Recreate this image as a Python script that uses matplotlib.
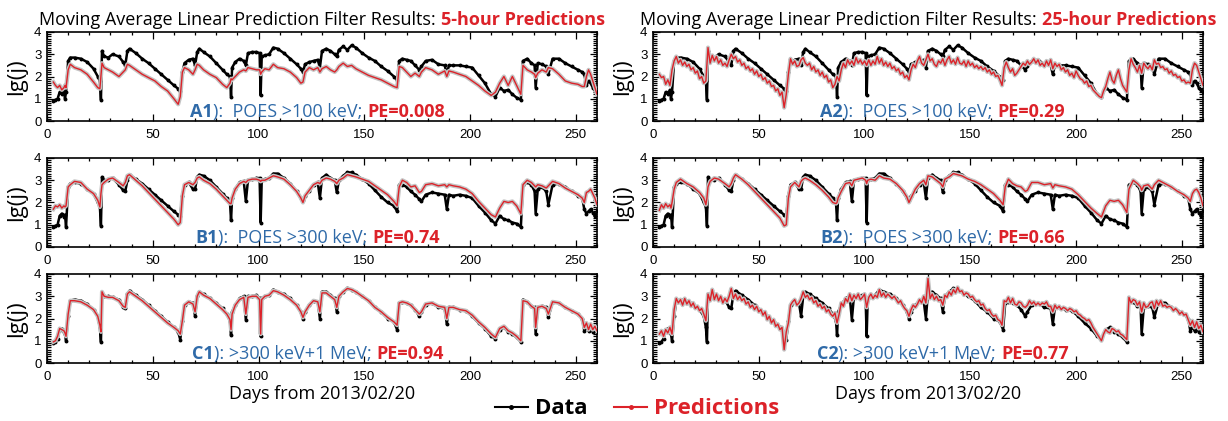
import matplotlib
matplotlib.use("Agg")
import matplotlib.pyplot as plt
import matplotlib.patheffects as pe
from matplotlib.lines import Line2D
from matplotlib.ticker import MultipleLocator
from matplotlib.transforms import IdentityTransform

plt.rcParams['font.family'] = ['Open Sans', 'DejaVu Sans']

RED = '#dc2229'
BLUE = '#2f6aa8'

# days from 2013/02/20 (shared sampling for most curves)
days = [3, 4, 5, 6, 7, 8, 8.5, 9, 10, 11,
        13, 16, 19, 22, 24, 25, 25.5, 26, 27, 29,
        31, 34, 36, 37, 38, 39, 42, 45, 48, 51,
        54, 57, 60, 62, 63, 64, 65, 67, 69, 70,
        71, 72, 74, 77, 80, 83, 85, 86.5, 87, 87.5,
        89, 91, 93, 94, 95, 97, 99, 100.5, 101, 101.5,
        103, 105, 107, 109, 112, 115, 118, 120, 121, 122,
        124, 126, 128, 129, 130, 132, 134, 136, 137, 138,
        140, 142, 144, 146, 149, 152, 155, 158, 161, 164,
        165.5, 166.5, 168, 170, 172, 174, 176, 177, 179, 182,
        185, 188, 189, 190, 192, 195, 198, 201, 204, 207,
        210, 212, 214, 216, 218, 220, 222, 224, 225, 227,
        229, 230.5, 231, 232, 234, 236, 237, 239, 242, 245,
        248, 251, 253, 254, 255, 256, 257, 258, 259, 260]

# daily sampling used for the noisy 25-hour predictions
days_daily = list(range(3, 261))

# observed lg(j): POES >100 keV
data_a = [0.9, 0.95, 1.0, 1.3, 1.2, 1.4, 1.0, 1.3, 2.7, 2.85,
          2.85, 2.8, 2.65, 2.35, 2.0, 1.8, 0.95, 3.15, 2.9, 2.85,
          3.0, 2.9, 2.65, 2.5, 3.15, 3.25, 3.05, 2.8, 2.6, 2.35,
          2.1, 1.85, 1.6, 1.45, 1.35, 2.2, 2.6, 2.75, 2.8, 2.5,
          3.1, 3.25, 3.1, 2.9, 2.6, 2.3, 2.1, 2.0, 1.1, 2.4,
          2.65, 2.8, 2.7, 2.5, 3.05, 3.1, 3.1, 3.05, 1.15, 2.9,
          2.95, 3.0, 3.3, 3.25, 3.05, 2.8, 2.55, 2.35, 2.2, 2.55,
          2.65, 2.7, 2.75, 2.4, 3.15, 3.25, 3.15, 3.0, 2.9, 3.2,
          3.35, 3.2, 3.4, 3.3, 3.05, 2.85, 2.7, 2.45, 2.25, 2.0,
          1.85, 2.7, 2.8, 2.75, 2.7, 2.5, 2.3, 2.45, 2.7, 2.75,
          2.55, 2.5, 2.1, 2.5, 2.5, 2.5, 2.45, 2.4, 2.05, 1.7,
          1.2, 1.1, 1.5, 1.35, 1.4, 1.2, 1.05, 0.95, 2.7, 2.8,
          2.6, 2.5, 1.5, 2.6, 2.55, 2.45, 2.1, 2.8, 2.8, 2.6,
          2.45, 2.3, 2.2, 2.1, 1.6, 1.8, 1.7, 1.5, 1.4, 1.3]

# observed lg(j): POES >300 keV
data_b = [0.9, 0.95, 1.0, 1.4, 1.5, 1.35, 1.45, 0.9, 2.7, 2.85,
          2.9, 2.85, 2.6, 2.4, 2.0, 1.8, 0.95, 3.15, 3.0, 3.0,
          3.1, 2.8, 2.55, 2.5, 3.0, 3.25, 3.05, 2.85, 2.6, 2.35,
          2.1, 1.85, 1.6, 1.45, 1.4, 2.3, 2.8, 2.9, 2.6, 2.6,
          3.15, 3.25, 3.2, 3.0, 2.7, 2.4, 2.2, 2.0, 1.2, 2.2,
          2.6, 2.9, 2.95, 2.05, 3.0, 3.05, 3.1, 3.1, 1.1, 3.0,
          3.05, 3.1, 3.3, 3.3, 3.1, 2.85, 2.5, 2.2, 2.1, 2.3,
          2.5, 2.8, 2.9, 2.2, 3.1, 3.25, 3.1, 3.0, 2.45, 3.0,
          3.2, 3.35, 3.35, 3.25, 3.05, 2.85, 2.55, 2.25, 2.0, 1.85,
          1.6, 2.8, 2.8, 2.7, 2.5, 2.35, 2.15, 2.05, 2.35, 2.45,
          2.4, 2.35, 1.7, 2.35, 2.3, 2.35, 2.3, 2.2, 1.85, 1.55,
          1.2, 1.05, 1.4, 1.25, 1.2, 1.1, 1.05, 0.9, 2.8, 2.9,
          2.8, 2.5, 1.5, 2.6, 2.7, 2.5, 1.9, 2.8, 2.85, 2.7,
          2.5, 2.3, 2.2, 1.7, 1.5, 1.6, 1.7, 1.55, 1.4, 1.6]

# observed lg(j): >300 keV + 1 MeV
data_c = [0.9, 0.95, 1.1, 1.5, 1.55, 1.4, 1.3, 1.0, 2.1, 2.8,
          2.85, 2.8, 2.65, 2.4, 2.1, 1.6, 0.95, 3.1, 3.0, 3.0,
          2.95, 2.85, 2.5, 2.45, 3.1, 3.25, 3.05, 2.85, 2.6, 2.35,
          2.1, 1.85, 1.6, 1.4, 1.05, 1.9, 2.6, 2.75, 2.7, 2.1,
          3.0, 3.2, 3.1, 2.9, 2.7, 2.45, 2.2, 1.9, 1.25, 2.3,
          2.6, 2.9, 3.0, 1.95, 3.0, 3.0, 3.05, 2.9, 1.2, 2.9,
          3.0, 3.05, 3.3, 3.2, 3.1, 2.9, 2.6, 2.3, 2.0, 2.3,
          2.6, 2.8, 2.75, 2.0, 3.2, 3.2, 3.05, 2.9, 2.3, 3.0,
          3.2, 3.35, 3.3, 3.2, 3.0, 2.8, 2.5, 2.3, 2.0, 1.85,
          1.5, 2.7, 2.75, 2.7, 2.6, 2.4, 2.1, 2.3, 2.6, 2.7,
          2.5, 2.45, 1.75, 2.5, 2.5, 2.4, 2.35, 2.1, 1.8, 1.55,
          1.2, 1.1, 1.5, 1.6, 1.4, 1.3, 1.15, 0.95, 2.85, 2.75,
          2.55, 2.5, 1.3, 2.5, 2.55, 2.5, 2.05, 2.75, 2.7, 2.5,
          2.35, 2.2, 2.0, 1.45, 1.6, 1.45, 1.6, 1.4, 1.55, 1.4]

# predictions, 5-hour (left column)
pred_a1 = [1.75, 1.6, 1.5, 1.6, 1.4, 1.5, 1.6, 1.5, 2.3, 2.55,
           2.4, 2.3, 2.1, 1.75, 1.5, 1.45, 2.0, 2.6, 2.4, 2.3,
           2.2, 2.0, 2.2, 2.3, 2.55, 2.5, 2.3, 2.1, 1.95, 1.8,
           1.55, 1.35, 1.0, 0.75, 1.1, 2.2, 2.4, 2.3, 2.1, 2.3,
           2.55, 2.5, 2.3, 2.1, 1.95, 1.65, 1.5, 1.7, 1.9, 1.85,
           2.0, 2.2, 2.3, 2.25, 2.4, 2.35, 2.3, 2.3, 2.1, 2.2,
           2.35, 2.3, 2.55, 2.4, 2.35, 2.2, 1.95, 1.7, 1.75, 2.2,
           2.4, 2.3, 2.4, 2.2, 2.35, 2.45, 2.3, 2.2, 2.3, 2.45,
           2.6, 2.45, 2.5, 2.35, 2.2, 2.05, 1.95, 1.85, 1.7, 1.55,
           1.5, 2.45, 2.4, 2.2, 2.0, 2.15, 2.0, 2.2, 2.4, 2.3,
           2.1, 2.25, 2.0, 2.25, 2.2, 2.1, 2.0, 1.8, 1.6, 1.35,
           1.15, 1.3, 1.7, 2.0, 1.6, 2.0, 1.6, 1.2, 2.5, 2.3,
           2.2, 2.1, 1.95, 2.15, 2.3, 2.2, 2.4, 2.35, 2.1, 1.8,
           1.7, 1.65, 1.55, 1.55, 2.0, 2.3, 2.1, 1.8, 1.5, 1.2]

pred_b1 = [1.7, 1.85, 1.8, 1.9, 1.75, 1.85, 1.8, 1.85, 2.7, 2.8,
           2.95, 2.9, 2.6, 2.4, 2.1, 1.8, 2.4, 2.8, 2.9, 3.05,
           3.1, 2.9, 2.75, 2.9, 3.2, 3.25, 3.0, 2.75, 2.45, 2.15,
           1.85, 1.55, 1.25, 1.0, 1.1, 2.3, 2.8, 2.9, 2.8, 2.9,
           3.1, 3.15, 3.0, 2.85, 2.6, 2.3, 2.1, 1.95, 1.95, 2.2,
           2.6, 2.85, 2.95, 2.9, 3.0, 3.05, 3.05, 3.0, 2.95, 3.0,
           3.0, 3.1, 3.2, 3.15, 3.05, 2.8, 2.5, 2.2, 2.0, 2.3,
           2.55, 2.8, 2.9, 2.85, 3.0, 3.1, 3.05, 2.95, 2.85, 3.0,
           3.1, 3.25, 3.2, 3.15, 3.05, 2.95, 2.75, 2.55, 2.35, 2.05,
           1.85, 2.7, 3.0, 2.9, 2.7, 2.75, 2.45, 2.5, 2.8, 2.85,
           2.75, 2.8, 2.7, 2.8, 2.75, 2.7, 2.6, 2.4, 2.05, 1.75,
           1.45, 1.35, 1.75, 2.05, 2.0, 2.05, 1.85, 1.5, 2.8, 3.0,
           2.9, 2.75, 2.7, 2.8, 2.75, 2.65, 2.75, 2.95, 2.85, 2.65,
           2.5, 2.35, 2.2, 2.0, 2.45, 2.5, 2.6, 2.4, 2.2, 1.9]

pred_c1 = [0.95, 1.0, 1.2, 1.55, 1.5, 1.45, 1.35, 1.2, 2.2, 2.8,
           2.8, 2.75, 2.6, 2.4, 2.1, 1.7, 1.4, 3.2, 3.0, 2.95,
           2.95, 2.8, 2.55, 2.5, 3.1, 3.2, 3.0, 2.8, 2.55, 2.3,
           2.05, 1.8, 1.6, 1.45, 1.3, 1.9, 2.6, 2.75, 2.65, 2.3,
           3.0, 3.2, 3.05, 2.9, 2.65, 2.4, 2.2, 1.95, 1.5, 2.2,
           2.6, 2.85, 2.95, 2.2, 2.95, 3.0, 3.0, 2.85, 1.3, 2.85,
           3.0, 3.05, 3.25, 3.2, 3.05, 2.85, 2.6, 2.3, 2.05, 2.3,
           2.6, 2.8, 2.75, 2.3, 3.15, 3.15, 3.0, 2.85, 2.5, 3.0,
           3.2, 3.35, 3.3, 3.2, 3.0, 2.8, 2.5, 2.3, 2.05, 1.85,
           1.7, 2.7, 2.75, 2.7, 2.6, 2.4, 2.2, 2.3, 2.65, 2.7,
           2.55, 2.5, 2.0, 2.5, 2.5, 2.4, 2.35, 2.15, 1.85, 1.6,
           1.3, 1.15, 1.55, 1.65, 1.45, 1.35, 1.2, 1.0, 2.8, 2.75,
           2.55, 2.45, 1.6, 2.5, 2.55, 2.45, 2.2, 2.75, 2.7, 2.5,
           2.35, 2.2, 2.0, 1.6, 1.8, 1.5, 1.75, 1.5, 1.65, 1.45]

# predictions, 25-hour (right column); A2 and C2 read day by day
pred_a2 = [2.1, 1.95, 2.0, 1.65, 1.85, 1.6, 2.3, 2.7, 2.9, 2.6,
           2.75, 2.5, 2.65, 2.45, 2.55, 2.3, 2.4, 2.15, 2.25, 1.9,
           2.0, 1.7, 1.8, 3.3, 2.6, 2.95, 2.7, 2.9, 2.6, 2.75,
           2.5, 2.6, 2.45, 2.75, 3.0, 2.8, 2.9, 2.65, 2.75, 2.5,
           2.6, 2.35, 2.45, 2.25, 2.35, 2.1, 2.25, 2.0, 2.1, 1.85,
           1.95, 1.7, 1.8, 1.55, 1.6, 1.35, 1.45, 1.15, 1.3, 0.6,
           1.2, 2.1, 2.8, 2.55, 2.7, 2.45, 2.5, 2.75, 2.85, 2.6,
           2.5, 2.6, 2.3, 2.45, 2.2, 2.3, 2.05, 2.2, 1.95, 2.05,
           1.75, 1.85, 1.5, 1.65, 2.0, 1.8, 2.3, 2.6, 2.4, 2.75,
           2.55, 2.7, 2.5, 2.85, 2.6, 2.75, 2.55, 2.7, 2.5, 2.75,
           2.5, 2.7, 2.55, 2.9, 2.6, 2.8, 2.5, 2.65, 2.45, 2.6,
           2.35, 2.45, 2.25, 2.35, 2.1, 2.2, 1.95, 2.05, 1.85, 2.3,
           2.55, 2.4, 2.7, 2.9, 2.6, 2.5, 2.75, 3.0, 2.7, 2.8,
           2.55, 2.45, 2.7, 2.6, 2.8, 2.5, 2.75, 2.9, 2.6, 2.75,
           2.55, 2.85, 2.6, 2.55, 2.7, 2.45, 2.7, 2.5, 2.6, 2.4,
           2.5, 2.35, 2.45, 2.3, 2.4, 2.2, 2.3, 2.1, 2.2, 2.0,
           2.05, 1.85, 1.6, 2.4, 2.65, 2.4, 2.2, 2.35, 2.05, 2.15,
           2.3, 2.45, 2.6, 2.5, 2.7, 2.55, 2.65, 2.8, 2.6, 2.75,
           2.5, 2.6, 2.45, 2.7, 2.5, 2.75, 2.35, 2.6, 2.45, 2.55,
           2.3, 2.4, 2.2, 2.3, 2.05, 2.15, 1.95, 2.25, 2.05, 1.9,
           1.85, 1.7, 1.8, 1.55, 1.6, 1.4, 1.3, 1.2, 1.1, 1.05,
           1.35, 1.55, 1.9, 2.2, 1.85, 1.7, 2.05, 2.3, 1.9, 1.6,
           1.45, 1.3, 2.3, 2.8, 2.55, 2.4, 2.2, 2.5, 2.15, 2.6,
           2.45, 2.35, 2.5, 2.3, 2.75, 2.55, 2.6, 2.4, 2.45, 2.3,
           2.35, 2.15, 2.25, 2.05, 2.1, 1.95, 2.0, 1.8, 1.85, 1.7,
           1.75, 1.7, 2.3, 2.6, 2.5, 2.2, 1.9, 1.6]

pred_b2 = [1.65, 1.9, 1.75, 1.95, 1.8, 1.9, 1.75, 2.0, 2.6, 2.9,
           3.05, 2.85, 2.7, 2.45, 2.2, 1.9, 2.2, 2.7, 2.95, 3.1,
           3.05, 2.85, 2.7, 2.85, 3.1, 3.25, 3.05, 2.8, 2.5, 2.2,
           1.9, 1.6, 1.3, 0.95, 1.0, 2.2, 2.7, 2.9, 2.7, 2.95,
           3.05, 3.1, 3.0, 2.8, 2.55, 2.25, 2.0, 1.95, 2.0, 2.2,
           2.5, 2.85, 2.9, 2.75, 3.0, 3.05, 3.1, 3.0, 2.85, 3.0,
           3.05, 3.0, 3.2, 3.1, 3.05, 2.85, 2.55, 2.25, 2.0, 2.2,
           2.6, 2.85, 3.0, 2.8, 3.2, 3.15, 3.0, 2.85, 2.7, 3.05,
           3.15, 3.3, 3.25, 3.2, 3.05, 2.95, 2.8, 2.6, 2.4, 2.1,
           1.9, 2.7, 3.05, 2.85, 2.75, 2.7, 2.5, 2.55, 2.9, 2.9,
           2.8, 2.85, 2.65, 2.8, 2.75, 2.7, 2.6, 2.35, 2.05, 1.75,
           1.5, 1.35, 1.85, 2.1, 2.05, 2.1, 1.9, 1.55, 2.6, 3.0,
           2.85, 2.7, 2.55, 2.75, 2.8, 2.6, 2.8, 3.0, 2.85, 2.7,
           2.5, 2.35, 2.2, 2.05, 2.4, 2.55, 2.6, 2.45, 2.2, 1.85]

pred_c2 = [1.3, 1.45, 1.2, 1.5, 1.35, 1.6, 1.3, 2.4, 2.9, 2.7,
           2.85, 2.6, 2.9, 2.65, 2.8, 2.55, 2.7, 2.45, 2.55, 2.35,
           2.45, 2.2, 1.9, 3.1, 2.8, 3.3, 2.85, 3.1, 2.8, 3.0,
           2.7, 2.9, 2.75, 3.0, 3.35, 2.9, 3.1, 2.85, 3.0, 2.8,
           2.9, 2.65, 2.75, 2.5, 2.6, 2.4, 2.55, 2.3, 2.4, 2.15,
           2.3, 1.95, 2.1, 1.8, 1.95, 1.65, 1.75, 1.5, 1.6, 0.6,
           1.4, 1.8, 2.6, 2.75, 2.85, 2.6, 2.7, 2.9, 3.2, 2.95,
           3.05, 2.85, 2.95, 2.7, 2.8, 2.55, 2.65, 2.45, 2.55, 2.3,
           2.4, 2.2, 2.1, 2.25, 1.8, 2.2, 2.7, 2.55, 2.9, 2.75,
           3.1, 2.8, 3.05, 2.9, 3.1, 2.85, 2.95, 3.1, 2.5, 2.95,
           3.1, 2.9, 3.05, 2.95, 3.3, 3.0, 3.15, 2.95, 3.1, 3.0,
           2.9, 3.0, 2.85, 2.7, 2.8, 2.6, 2.45, 2.35, 2.1, 2.4,
           2.6, 2.5, 2.65, 2.85, 2.7, 3.0, 2.7, 3.8, 2.9, 3.1,
           2.85, 3.0, 2.8, 2.85, 2.6, 3.05, 2.95, 3.2, 3.05, 3.3,
           3.15, 3.4, 3.2, 3.25, 3.05, 3.15, 3.1, 2.95, 3.0, 2.85,
           2.75, 2.8, 2.6, 2.65, 2.45, 2.35, 2.4, 2.2, 2.1, 2.15,
           1.95, 1.9, 1.7, 2.8, 2.75, 2.95, 2.7, 2.9, 2.65, 2.6,
           2.75, 2.7, 2.55, 2.5, 2.6, 2.8, 2.65, 2.75, 2.6, 2.7,
           2.6, 2.7, 2.65, 2.75, 2.55, 2.55, 2.3, 2.6, 2.45, 2.55,
           2.4, 2.5, 2.45, 2.35, 2.45, 2.4, 2.3, 2.35, 2.2, 2.15,
           2.05, 2.0, 1.9, 1.95, 1.8, 1.6, 1.45, 1.3, 1.15, 1.0,
           1.3, 1.5, 1.4, 1.35, 1.55, 1.5, 1.4, 1.45, 1.3, 1.25,
           1.15, 1.05, 2.95, 2.7, 2.85, 2.8, 2.6, 2.75, 2.3, 2.7,
           2.5, 2.55, 2.7, 2.75, 2.45, 2.8, 2.6, 2.8, 2.55, 2.6,
           2.5, 2.55, 2.5, 2.35, 2.45, 2.35, 2.2, 2.3, 2.15, 2.2,
           1.95, 1.7, 1.9, 1.6, 1.85, 1.55, 1.7, 1.4]

panel_ids = [['A1', 'A2'], ['B1', 'B2'], ['C1', 'C2']]
panel_desc = ['):  POES >100 keV;', '):  POES >300 keV;', '): >300 keV+1 MeV;']
pe_left = ['PE=0.008', 'PE=0.74', 'PE=0.94']
pe_right = ['PE=0.29', 'PE=0.66', 'PE=0.77']
horizons = ['5-hour Predictions', '25-hour Predictions']

W, H = 1228, 421
fig = plt.figure(figsize=(W / 100, H / 100), dpi=100)
renderer = fig.canvas.get_renderer()
ident = IdentityTransform()


def put_segments(segs, xc, y, size):
    # draw coloured pieces of one line of text, centred on xc (pixels)
    items = []
    for txt, color, weight, gap in segs:
        t = fig.text(0, 0, txt, color=color, fontweight=weight, fontsize=size,
                     transform=ident, va='baseline', ha='left')
        items.append((t, t.get_window_extent(renderer).width, gap))
    total = sum(w + g for _, w, g in items) - items[-1][2]
    x = xc - total / 2
    for t, w, g in items:
        t.set_position((x, y))
        x += w + g


col_left = [47, 653]
row_top = [32, 158, 274]
ax_w, ax_h = 550, 89
data_rows = [data_a, data_b, data_c]
preds = [[(days, pred_a1), (days_daily, pred_a2)],
         [(days, pred_b1), (days, pred_b2)],
         [(days, pred_c1), (days_daily, pred_c2)]]
pes = [pe_left, pe_right]
label_day = [128, 137]

for r in range(3):
    for c in range(2):
        ax = fig.add_axes([col_left[c] / W, 1 - (row_top[r] + ax_h) / H, ax_w / W, ax_h / H])
        ax.plot(days, data_rows[r], color='black', lw=1.8, marker='o', ms=1.8, zorder=2)
        px, py = preds[r][c]
        ax.plot(px, py, color=RED, lw=1.0, zorder=3,
                path_effects=[pe.Stroke(linewidth=3.0, foreground='#c4c4c4'), pe.Normal()])
        ax.set_xlim(0, 260)
        ax.set_ylim(0, 4)
        ax.set_xticks([0, 50, 100, 150, 200, 250])
        ax.set_yticks([0, 1, 2, 3, 4])
        ax.xaxis.set_minor_locator(MultipleLocator(10))
        ax.yaxis.set_minor_locator(MultipleLocator(0.1))
        ax.tick_params(which='both', direction='in', top=True, right=True, width=0.9)
        ax.tick_params(which='major', length=5)
        ax.tick_params(axis='y', which='minor', length=3)
        ax.tick_params(axis='x', which='minor', length=2)
        ax.tick_params(axis='x', pad=6, labelsize=9.5)
        ax.tick_params(axis='y', pad=4, labelsize=9.5)
        for lab in ax.get_xticklabels() + ax.get_yticklabels():
            lab.set_family('Liberation Sans')
        for s in ax.spines.values():
            s.set_linewidth(1.2)
        fig.text((col_left[c] - 30) / W, 1 - (row_top[r] + ax_h / 2) / H, 'lg(j)',
                 rotation=90, ha='center', va='center', fontsize=16)
        if r == 2:
            ax.set_xlabel('Days from 2013/02/20', fontsize=13, labelpad=1)
        # panel annotation
        xp, yp = ax.transData.transform((label_day[c], 0.2))
        put_segments([(panel_ids[r][c], BLUE, 'bold', 0),
                      (panel_desc[r], BLUE, 'normal', 5),
                      (pes[c][r], RED, 'bold', 0)], xp, yp, 13)

for c in range(2):
    put_segments([('Moving Average Linear Prediction Filter Results:', 'black', 'normal', 5),
                  (horizons[c], RED, 'bold', 0)],
                 col_left[c] + ax_w / 2, H - 25, 13)

handles = [Line2D([], [], color='black', lw=1.5, marker='o', ms=2.5),
           Line2D([], [], color=RED, lw=1.5, marker='o', ms=2.5)]
leg = fig.legend(handles, ['Data', 'Predictions'], loc='center',
                 bbox_to_anchor=(637 / W, 1 - 409 / H), ncol=2, frameon=False,
                 prop={'weight': 'bold', 'size': 16}, handlelength=1.5,
                 handletextpad=0.3, columnspacing=1.2)
for txt, col in zip(leg.get_texts(), ['black', RED]):
    txt.set_color(col)

fig.savefig('out.png', dpi=100)
